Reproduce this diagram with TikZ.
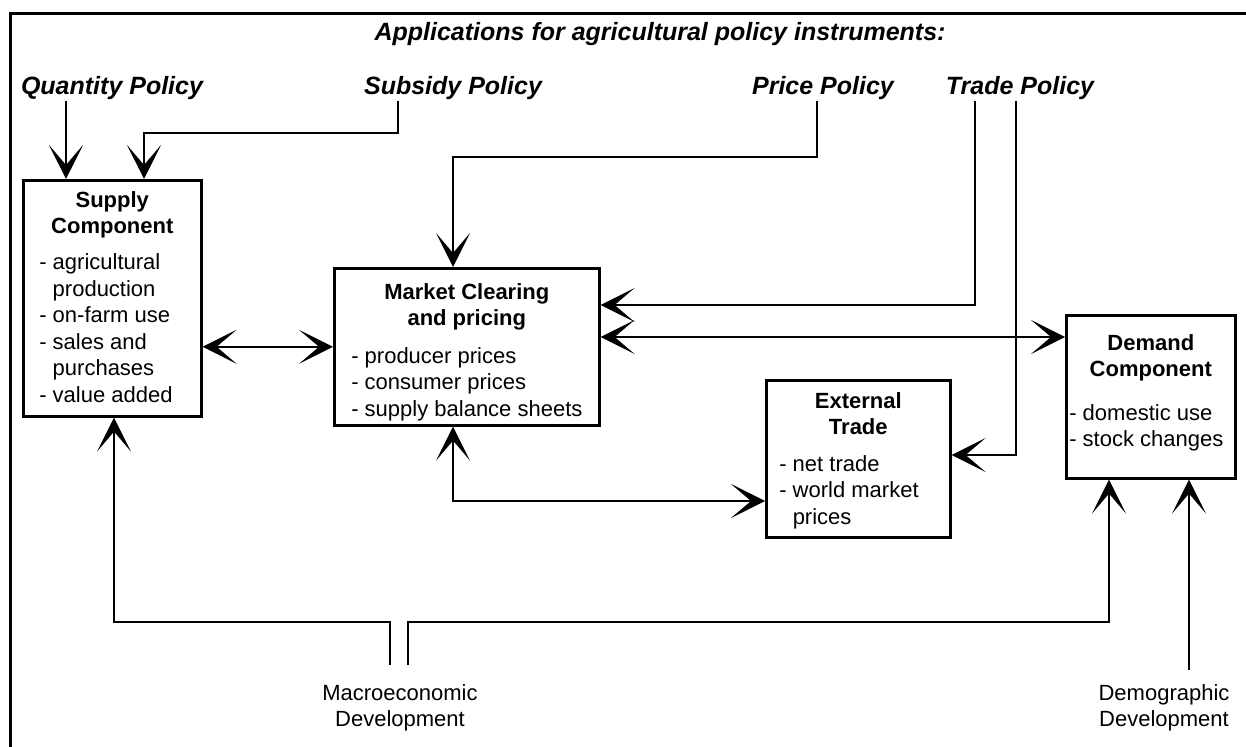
\documentclass[tikz,border=0pt]{standalone}
\usepackage{fontspec}
\setmainfont{Liberation Sans}
\usepackage{tikz}
\usetikzlibrary{arrows.meta}
\usetikzlibrary{positioning}
\newcommand{\boxfont}{\fontsize{11}{13.25}\selectfont}
\newcommand{\polfont}{\fontsize{12.5}{15}\selectfont\bfseries\itshape}
\tikzset{comp/.style = {draw, line width = 1.3pt, inner sep = 0, anchor = north west, font = \boxfont}}
\tikzset{pol/.style = {font = \polfont, anchor = base, inner sep = 0}}
\tikzset{lbl/.style = {font = \boxfont, align = center, anchor = north, inner sep = 0}}
\tikzset{arr/.style = {line width = 1pt, -{Stealth[length=17pt,width=17pt,inset=10pt]}}}
\tikzset{dbl/.style = {line width = 1pt, {Stealth[length=17pt,width=17pt,inset=10pt]}-{Stealth[length=17pt,width=17pt,inset=10pt]}}}

\begin{document}
\begin{tikzpicture}[x=0.5pt, y=-0.5pt]
    \useasboundingbox (0, 0) rectangle (1246, 747);
    \draw [line width = 1.5pt] (10, 747) -- (10, 14) -- (1246, 14);

    \node [pol] (title) at (660, 41) {Applications for agricultural policy instruments:};
    \node [pol] (qty) at (112, 95) {Quantity Policy};
    \node [pol] (sub) at (453, 95) {Subsidy Policy};
    \node [pol] (price) at (823, 95) {Price Policy};
    \node [pol] (trade) at (1020, 95) {Trade Policy};

    \node [comp] (supply) at (22, 179) {\parbox[c][118pt][t]{89pt}{\vspace*{5.5pt}%
      \centering\bfseries Supply\\Component\par\vspace{4.75pt}%
      \raggedright\mdseries\leftskip=8pt
      - agricultural\\\hphantom{- }production\\- on-farm use\\- sales and\\\hphantom{- }purchases\\- value added\par}};
    \node [comp] (market) at (333, 267) {\parbox[c][78.5pt][t]{132.5pt}{\vspace*{7.5pt}%
      \centering\bfseries Market Clearing\\and pricing\par\vspace{5.5pt}%
      \raggedright\mdseries\leftskip=8.5pt
      - producer prices\\- consumer prices\\- supply balance sheets\par}};
    \node [comp] (ext) at (765, 379) {\parbox[c][78.5pt][t]{92pt}{\vspace*{6pt}%
      \centering\bfseries External\\Trade\par\vspace{5pt}%
      \raggedright\mdseries\leftskip=6.5pt
      - net trade\\- world market\\\hphantom{- }prices\par}};
    \node [comp] (demand) at (1065, 314) {\parbox[c][81.5pt][t]{84.5pt}{\vspace*{9.5pt}%
      \centering\bfseries Demand\\Component\par\vspace{8.5pt}%
      \raggedright\mdseries\leftskip=1.5pt
      - domestic use\\- stock changes\par}};

    \node [lbl] (macro) at (400, 684) {Macroeconomic\\Development};
    \node [lbl] (demo) at (1164, 684) {Demographic\\Development};
    \coordinate (mleft) at (390, 665);
    \coordinate (mright) at (408, 665);
    \coordinate (dline) at (1189, 670);

    % policy instruments
    \draw [arr] (qty.south -| 66, 0) -- (66, 0 |- supply.north);
    \draw [arr] (sub.south -| 398, 0) |- (144, 133) -- (144, 0 |- supply.north);
    \draw [arr] (price.south -| 817, 0) |- (453, 157) -- (453, 0 |- market.north);
    \draw [arr] (trade.south -| 975, 0) |- (market.east |- 0, 305);
    \draw [arr] (trade.south -| 1016, 0) |- (ext.east |- 0, 455);

    % components
    \draw [dbl] (supply.east |- market.west) -- (market.west);
    \draw [dbl] (market.east |- 0, 337) -- (demand.west |- 0, 337);
    \draw [dbl] (453, 0 |- market.south) |- (ext.west |- 0, 501);

    % exogenous development
    \draw [arr] (mleft) |- (114, 622) -- (114, 0 |- supply.south);
    \draw [arr] (mright) |- (1109, 622) -- (1109, 0 |- demand.south);
    \draw [arr] (dline) -- (1189, 0 |- demand.south);
\end{tikzpicture}
\end{document}
